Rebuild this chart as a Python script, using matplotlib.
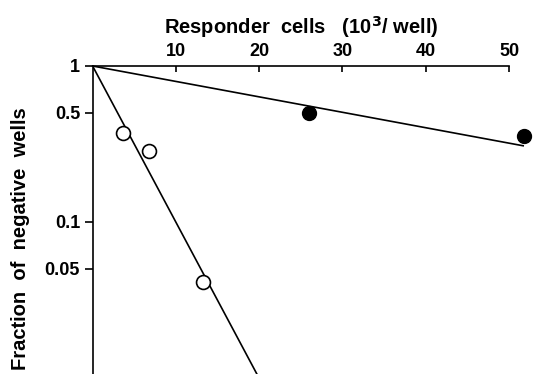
import numpy as np
import matplotlib.pyplot as plt
from matplotlib.ticker import FixedLocator, NullLocator

plt.rcParams['font.family'] = ['Liberation Sans', 'DejaVu Sans']
plt.rcParams['font.weight'] = 'bold'

# open circles (steep line)
open_x = [3.6, 6.8, 13.2]
open_y = [0.374, 0.285, 0.041]
# filled circles (shallow line)
filled_x = [26.0, 51.8]
filled_y = [0.50, 0.356]

# fitted lines (end points)
fit_open_x = [0, 21.0]
fit_open_y = [1.0, 0.0079]
fit_filled_x = [0, 51.7]
fit_filled_y = [1.0, 0.308]

xticks = [10, 20, 30, 40, 50]
yticks = [1, 0.5, 0.1, 0.05]
ytick_labels = ['1', '0.5', '0.1', '0.05']

fig = plt.figure(figsize=(5.37, 3.74), dpi=100)
ax = fig.add_axes([92.6 / 537, 0.0, (509 - 92.6) / 537, 1 - 66 / 374])

ax.set_yscale('log')
ax.set_xlim(0, 50)
ax.set_ylim(0.0106, 1)

ax.plot(fit_filled_x, fit_filled_y, color='black', lw=1.2, clip_on=False)
ax.plot(fit_open_x, fit_open_y, color='black', lw=1.2)
ax.plot(open_x, open_y, 'o', ms=10, mfc='white', mec='black', mew=1.2, clip_on=False)
ax.plot(filled_x, filled_y, 'o', ms=10, mfc='black', mec='black', clip_on=False)

for s in ['right', 'bottom']:
    ax.spines[s].set_visible(False)
for s in ['top', 'left']:
    ax.spines[s].set_linewidth(1.2)

ax.xaxis.set_ticks_position('top')
ax.xaxis.set_label_position('top')
ax.set_xticks(xticks)
ax.set_xticklabels([str(t) for t in xticks])
ax.tick_params(axis='x', direction='in', length=4, width=1.2, labelsize=13, pad=4)

ax.yaxis.set_major_locator(FixedLocator(yticks))
ax.yaxis.set_minor_locator(NullLocator())
ax.set_yticklabels(ytick_labels)
ax.tick_params(axis='y', direction='out', length=6, width=1.2, labelsize=13, pad=3)

ax.set_xlabel('Responder  cells   (10$^{\\mathbf{3}}$/ well)', fontsize=14.5, fontweight='bold', labelpad=7)
ax.set_ylabel('Fraction  of  negative  wells', fontsize=14.5, fontweight='bold')
ax.yaxis.set_label_coords(-0.15, 0.44)

fig.savefig('out.png', dpi=100)
